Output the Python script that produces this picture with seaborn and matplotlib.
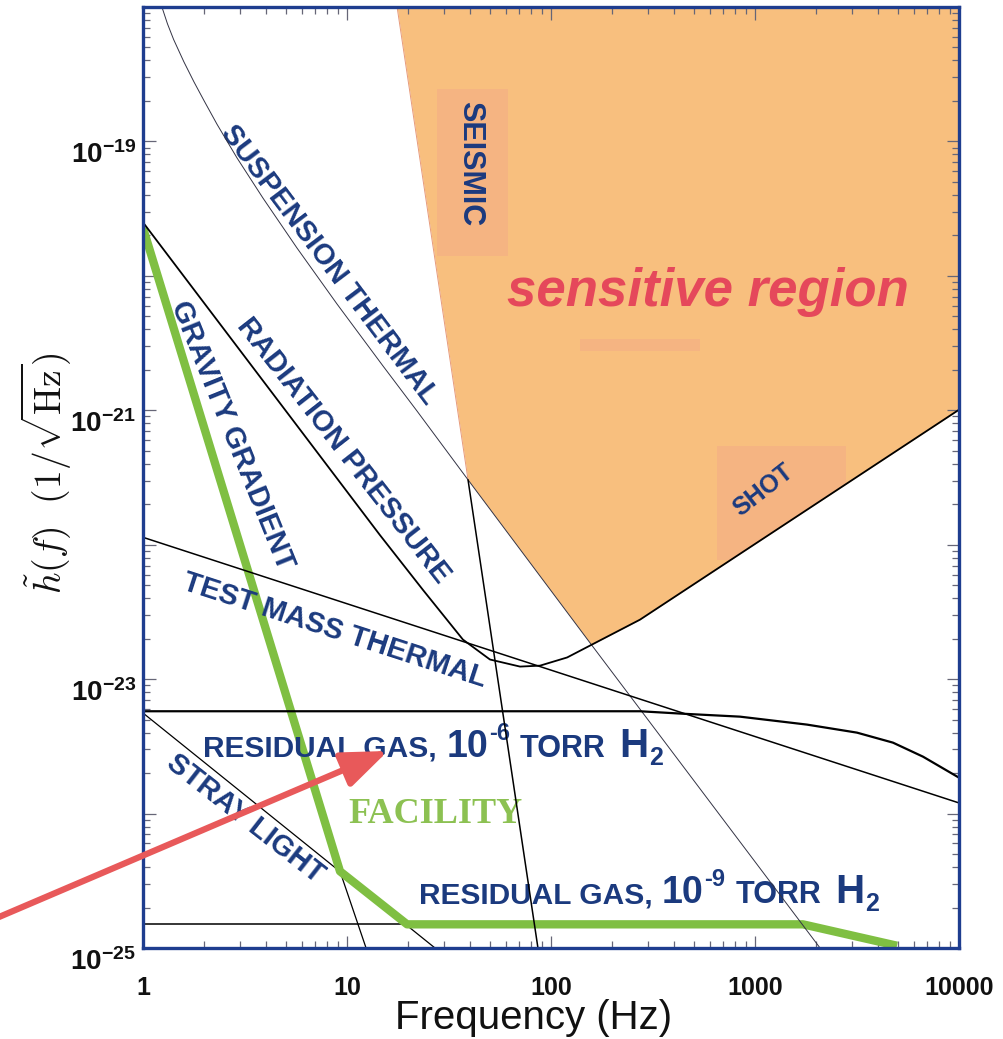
import numpy as np
import pandas as pd
import matplotlib
matplotlib.use("Agg")
import matplotlib.pyplot as plt
import seaborn as sns
from matplotlib.ticker import LogLocator, NullFormatter
from matplotlib.patches import Rectangle
from matplotlib.transforms import ScaledTranslation

# ---- noise curves: frequency [Hz] and strain amplitude [1/sqrt(Hz)] ----
susp_f = [1.238, 1.318, 1.413, 1.585, 1.778, 1.995, 2.307, 2.891, 3.873, 5.689, 8.93,
          15.0, 22.0, 39.2, 155, 2084]
susp_h = [1.0e-18, 7.50e-19, 5.73e-19, 3.92e-19, 2.77e-19, 2.00e-19, 1.34e-19, 7.53e-20,
          3.79e-20, 1.61e-20, 6.18e-21, 2.14e-21, 9.91e-22, 3.04e-22, 1.87e-23, 1.0e-25]

seis_f = [17.6, 39.2, 86.3]
seis_h = [1.0e-18, 3.04e-22, 1.0e-25]

# radiation pressure (low f) joined to shot noise (high f)
qn_f = [1.0, 14.5, 23.6, 37.0, 50.2, 70.5, 88.3, 120, 159, 273, 10000]
qn_h = [2.5e-20, 1.18e-22, 4.6e-23, 1.97e-23, 1.40e-23, 1.24e-23, 1.26e-23,
        1.45e-23, 1.81e-23, 2.77e-23, 1.01e-21]

tm_f = [1.0, 10000]
tm_h = [1.135e-22, 1.2e-24]

rg6_f = [1.0, 273, 444, 844, 1799, 3162, 4746, 6663, 10000]
rg6_h = [5.77e-24, 5.77e-24, 5.53e-24, 5.26e-24, 4.59e-24, 4.0e-24, 3.37e-24, 2.65e-24, 1.85e-24]

rg9_f = [1.0, 1718]
rg9_h = [1.5e-25, 1.5e-25]

stray_f = [1.0, 27.0]
stray_h = [5.6e-24, 1.0e-25]

grav_f = [1.0, 9.24, 12.4]
grav_h = [2.27e-20, 3.72e-25, 1.0e-25]

fac_f = [1.0, 9.24, 19.7, 1718, 4966]
fac_h = [2.27e-20, 3.72e-25, 1.5e-25, 1.5e-25, 1.04e-25]

x_ticks = [1, 10, 100, 1000, 10000]
x_labels = ["1", "10", "100", "1000", "10000"]
y_ticks = [1e-25, 1e-24, 1e-23, 1e-22, 1e-21, 1e-20, 1e-19, 1e-18]
y_labels = [r"$\mathbf{10^{-25}}$", "", r"$\mathbf{10^{-23}}$", "", r"$\mathbf{10^{-21}}$", "",
            r"$\mathbf{10^{-19}}$", ""]

# ---- style ----
sns.set_theme(style="ticks")
plt.rcParams["font.family"] = ["Liberation Sans", "DejaVu Sans"]
plt.rcParams["mathtext.fontset"] = "custom"
plt.rcParams["mathtext.rm"] = "Liberation Sans"
plt.rcParams["mathtext.bf"] = "Liberation Sans:bold"
plt.rcParams["mathtext.it"] = "Liberation Sans:italic"

navy = "#1B3A7E"
orange = "#F8BF7E"
patch_pink = "#F0A08A"
green = "#7FBF42"
red_arrow = "#E8595A"
region_red = "#E5485B"
spine_blue = "#1E3D8F"

fig = plt.figure(figsize=(10.04, 10.39), dpi=100)
ax = fig.add_axes([0.14243, 0.08758, 0.81275, 0.90568])
ax.set_xscale("log")
ax.set_yscale("log")
ax.set_xlim(1, 10000)
ax.set_ylim(1e-25, 1e-18)

# ---- sensitive region: above the envelope of seismic, suspension and shot noise ----
def log_interp(fq, xs, ys):
    return np.interp(np.log10(fq), np.log10(xs), np.log10(ys), left=-np.inf, right=-np.inf)

grid = np.logspace(np.log10(seis_f[0]), 4, 1200)
envelope = np.maximum.reduce([log_interp(grid, seis_f, seis_h),
                              log_interp(grid, susp_f, susp_h),
                              log_interp(grid, qn_f, qn_h)])
region = ax.fill_between(grid, 10 ** envelope, 1e-18, color=orange, lw=0, zorder=0)
region_path = region.get_paths()[0]

# faint shaded boxes behind labels, confined to the sensitive region
for (x0, y0, w, h) in [(0.360, 0.735, 0.087, 0.178), (0.704, 0.412, 0.157, 0.121),
                       (0.536, 0.634, 0.147, 0.013)]:
    box = Rectangle((x0, y0), w, h, transform=ax.transAxes, color=patch_pink,
                    alpha=0.35, lw=0, zorder=0.5)
    ax.add_patch(box)
    box.set_clip_path(region_path, ax.transData)

# ---- curves ----
def curve(fx, hy, color="black", lw=1.0, z=4):
    df = pd.DataFrame({"f": fx, "h": hy})
    sns.lineplot(data=df, x="f", y="h", ax=ax, color=color, lw=lw, zorder=z,
                 estimator=None, sort=False)
    return ax.lines[-1]

curve(rg9_f, rg9_h, lw=1.1, z=1.5)
curve(stray_f, stray_h, lw=0.9, z=1.5)
curve(grav_f, grav_h, lw=0.9, z=1.5)

curve(susp_f, susp_h, color="#333344", lw=0.7)
# the seismic wall is a black line only below its crossing with suspension noise
seis_f_arr, seis_h_arr = np.array(seis_f), np.array(seis_h)
low = seis_f_arr >= 39.2
curve(seis_f_arr[low], seis_h_arr[low], lw=1.1)
curve(seis_f_arr[seis_f_arr <= 39.2], seis_h_arr[seis_f_arr <= 39.2], color="#E79A7A", lw=0.7, z=0.8)
curve(qn_f, qn_h, lw=1.3)
curve(tm_f, tm_h, lw=1.1)
curve(rg6_f, rg6_h, lw=1.6)

# facility limit
fac_line = curve(fac_f, fac_h, color=green, lw=6.0, z=2)
fac_line.set_solid_capstyle("butt")

# ---- axes styling ----
for s in ax.spines.values():
    s.set_color(spine_blue)
    s.set_linewidth(2.4)
    s.set_zorder(5)
ax.set_xticks(x_ticks, labels=x_labels)
ax.set_yticks(y_ticks, labels=y_labels)
ax.xaxis.set_minor_locator(LogLocator(base=10, subs=np.arange(2, 10), numticks=100))
ax.yaxis.set_minor_locator(LogLocator(base=10, subs=np.arange(2, 10), numticks=100))
ax.xaxis.set_minor_formatter(NullFormatter())
ax.yaxis.set_minor_formatter(NullFormatter())
ax.tick_params(which="both", direction="in", top=True, right=True, color="#666677", width=0.9)
ax.tick_params(which="major", length=9)
ax.tick_params(which="minor", length=5)
ax.tick_params(axis="x", which="major", pad=20, labelsize=18)
ax.tick_params(axis="y", which="major", pad=5, labelsize=20)
for lbl in ax.get_xticklabels():
    lbl.set_fontweight("bold")
    lbl.set_color("#111111")
drop = ScaledTranslation(0, -8 / 72, fig.dpi_scale_trans)
for lbl in ax.get_yticklabels():
    lbl.set_color("#111111")
    lbl.set_transform(lbl.get_transform() + drop)

ax.set_xlabel("Frequency (Hz)", fontsize=29, color="#111111")
ax.xaxis.set_label_coords(0.479, -0.0744)
ax.xaxis.label.set_va("center")
ax.set_ylabel(r"$\tilde{h}(f)\ \ (1/\sqrt{\mathrm{Hz}})$", fontsize=27, color="#111111",
              math_fontfamily="cm")
ax.yaxis.set_label_coords(-0.118, 0.505)
ax.yaxis.label.set_va("center")

# ---- labels ----
lab = dict(color=navy, fontsize=21, fontweight="bold", ha="center", va="center",
           rotation_mode="anchor", transform=ax.transAxes, zorder=3)
ax.text(0.2285, 0.726, "SUSPENSION THERMAL", rotation=-53, **lab)
ax.text(0.2451, 0.5292, "RADIATION PRESSURE", rotation=-52, **lab)
ax.text(0.109, 0.545, "GRAVITY GRADIENT", rotation=-68, **lab)
ax.text(0.2353, 0.3379, "TEST MASS THERMAL", rotation=-18, **lab)
ax.text(0.125, 0.138, "STRAY LIGHT", rotation=-38, **lab)
ax.text(0.760, 0.4867, "SHOT", rotation=38, **{**lab, "fontsize": 18})
ax.text(0.4007, 0.834, "SEISMIC", rotation=-90, **{**lab, "fontsize": 22})

ax.text(0.6924, 0.6971, "sensitive region", color=region_red, fontsize=38,
        fontweight="bold", fontstyle="italic", ha="center", va="center",
        transform=ax.transAxes, zorder=3)
ax.text(0.359, 0.1424, "FACILITY", color="#8CC152", fontsize=26, fontweight="bold",
        family=["Liberation Serif", "DejaVu Serif"], ha="center", va="center",
        transform=ax.transAxes, zorder=3)

renderer = fig.canvas.get_renderer()

def residual_label(x0, y0, exponent):
    # (text, size in pt, baseline shift in pt, extra gap after in pt)
    parts = [("RESIDUAL GAS, ", 21.5, 0, 1), ("10", 27, 0, 0.5), (exponent, 17, 12, 7),
             ("TORR", 22, 0, 10), ("H", 29, 0, 0.5), ("2", 18, -6, 0)]
    dx = 0.0
    for text, size, rise, gap in parts:
        t = ax.annotate(text, xy=(x0, y0), xycoords="axes fraction", xytext=(dx, rise),
                        textcoords="offset points", fontsize=size, fontweight="bold",
                        color=navy, ha="left", va="baseline", zorder=3)
        dx += t.get_window_extent(renderer).width * 72.0 / fig.dpi + gap

residual_label(0.0735, 0.203, "-6")
residual_label(0.338, 0.0478, "-9")

# arrow pointing at the residual gas label
ax.annotate("", xy=(0.3002, 0.2094), xycoords="axes fraction",
            xytext=(-0.1936, 0.0266), textcoords="axes fraction",
            arrowprops=dict(arrowstyle="-|>,head_length=1.4,head_width=0.55", color=red_arrow,
                            lw=4.5, shrinkA=0, shrinkB=0, mutation_scale=20),
            annotation_clip=False, zorder=6)

fig.savefig("out.png", dpi=100)
